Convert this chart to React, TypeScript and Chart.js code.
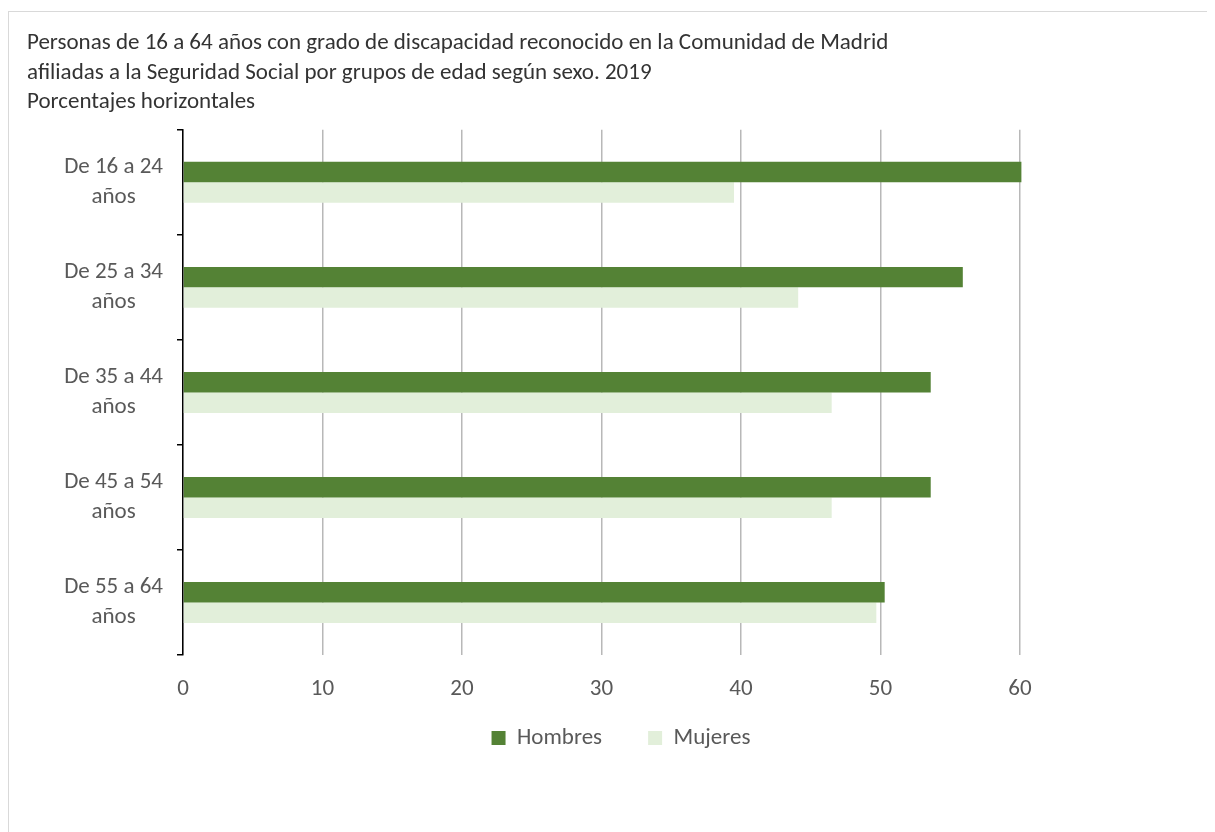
import React, { useEffect, useRef } from "react";
import { Chart, registerables } from "chart.js";

Chart.register(...registerables);

const titleLines = [
  "Personas de 16 a 64 años con grado de discapacidad reconocido en la Comunidad de Madrid",
  "afiliadas a la Seguridad Social por grupos de edad según sexo. 2019",
  "Porcentajes horizontales",
];
const categories = [
  ["De 16 a 24", "años"],
  ["De 25 a 34", "años"],
  ["De 35 a 44", "años"],
  ["De 45 a 54", "años"],
  ["De 55 a 64", "años"],
];
const seriesNames = ["Hombres", "Mujeres"];
const hombres = [60.1, 55.9, 53.6, 53.6, 50.3];
const mujeres = [39.5, 44.1, 46.5, 46.5, 49.7];
const xTicks = [0, 10, 20, 30, 40, 50, 60];

const FONT = "Carlito, Calibri, 'Liberation Sans Narrow', 'Open Sans', sans-serif";
const FS = 23;

const legendShift = {
  id: "legendShift",
  afterLayout(chart: any) {
    const lg = chart.legend;
    if (lg) {
      lg.top -= 34.5;
      lg.bottom -= 34.5;
    }
  },
};

export default function App() {
  const ref = useRef<HTMLCanvasElement | null>(null);
  useEffect(() => {
    document.body.style.overflow = "hidden";
    const chart = new Chart(ref.current as HTMLCanvasElement, {
      type: "bar",
      data: {
        labels: categories,
        datasets: [
          { label: seriesNames[0], data: hombres, backgroundColor: "#548235", borderWidth: 0, clip: false },
          { label: seriesNames[1], data: mujeres, backgroundColor: "#E2EFDA", borderWidth: 0, clip: false },
        ],
      },
      plugins: [legendShift],
      options: {
        indexAxis: "y",
        animation: false,
        responsive: true,
        maintainAspectRatio: false,
        datasets: { bar: { categoryPercentage: 0.39, barPercentage: 1 } },
        layout: { padding: { left: 18, right: 0, top: 0, bottom: 38 } },
        plugins: {
          tooltip: { enabled: false },
          title: {
            display: true,
            text: titleLines,
            align: "start",
            color: "#333333",
            font: { family: FONT, size: FS, weight: "normal", lineHeight: 1.28 },
            padding: { top: 17, bottom: 12.5 },
          },
          legend: {
            display: true,
            position: "bottom",
            labels: {
              boxWidth: 14,
              boxHeight: 14,
              padding: 46,
              color: "#595959",
              font: { family: FONT, size: FS },
            },
          },
        },
        scales: {
          x: {
            min: 0,
            max: 60,
            afterBuildTicks: (s: any) => {
              s.ticks = xTicks.map((v) => ({ value: v }));
            },
            afterFit: (s: any) => {
              s.height = 60;
            },
            grid: { color: "#b8b8b8", lineWidth: 1.5, drawTicks: false },
            border: { display: false },
            ticks: { color: "#595959", padding: 20, font: { family: FONT, size: FS } },
          },
          y: {
            afterFit: (s: any) => {
              s.width = 156;
            },
            grid: {
              display: true,
              drawOnChartArea: false,
              drawTicks: true,
              tickLength: 6,
              color: "#000000",
              lineWidth: 1.5,
            },
            border: { display: true, color: "#000000", width: 1.5 },
            ticks: {
              color: "#595959",
              padding: 14,
              crossAlign: "center",
              font: { family: FONT, size: FS, lineHeight: 1.3 },
            },
          },
          yRight: {
            type: "linear",
            position: "right",
            display: true,
            grid: { display: false },
            border: { display: false },
            ticks: { display: false },
            afterFit: (s: any) => {
              s.width = 195;
            },
          },
        },
      },
    } as any);
    return () => chart.destroy();
  }, []);
  return (
    <div
      style={{
        marginTop: 3,
        width: 1207,
        height: 821,
        boxSizing: "border-box",
        borderLeft: "1px solid #d9d9d9",
        borderTop: "1px solid #d9d9d9",
        position: "relative",
      }}
    >
      <div style={{ position: "relative", width: 1206, height: 820 }}>
        <canvas ref={ref} />
      </div>
    </div>
  );
}
